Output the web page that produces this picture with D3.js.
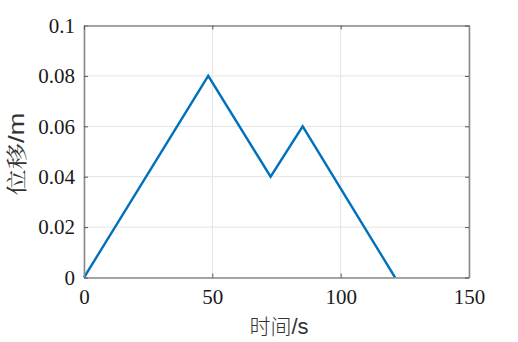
<!DOCTYPE html>
<html>
<head>
<meta charset="utf-8">
<script src="https://cdn.jsdelivr.net/npm/d3@7"></script>
<style>
  body { margin: 0; background: #fff; }
</style>
</head>
<body>
<svg width="518" height="342"></svg>
<script>
// données
const times = [0, 48.4, 72.7, 85.2, 121.2];
const displacement = [0, 0.08, 0.04, 0.06, 0];
const xTicks = [0, 50, 100, 150];
const yTicks = [0, 0.02, 0.04, 0.06, 0.08, 0.1];

const margin = { top: 25.5, right: 49, bottom: 64.5, left: 84 };
const width = 518, height = 342;
const w = width - margin.left - margin.right;
const h = height - margin.top - margin.bottom;
const tickFont = "'Liberation Serif', 'Times New Roman', Times, serif";
const cjkFont = "'Noto Serif CJK SC', 'Noto Sans CJK SC', serif";
const latinFont = "'Liberation Sans', Arial, sans-serif";

const svg = d3.select("svg")
  .append("g")
  .attr("transform", "translate(" + margin.left + "," + margin.top + ")");

const x = d3.scaleLinear().domain([0, 150]).range([0, w]);
const y = d3.scaleLinear().domain([0, 0.1]).range([h, 0]);

// grille
svg.selectAll(".gx").data(xTicks).enter().append("line")
  .attr("x1", d => x(d)).attr("x2", d => x(d))
  .attr("y1", 0).attr("y2", h)
  .attr("stroke", "#e3e3e3").attr("stroke-width", 1);
svg.selectAll(".gy").data(yTicks).enter().append("line")
  .attr("x1", 0).attr("x2", w)
  .attr("y1", d => y(d)).attr("y2", d => y(d))
  .attr("stroke", "#e3e3e3").attr("stroke-width", 1);

// courbe
svg.append("path")
  .datum(times.map((t, i) => [t, displacement[i]]))
  .attr("fill", "none")
  .attr("stroke", "#0072BD")
  .attr("stroke-width", 2.4)
  .attr("stroke-linejoin", "miter")
  .attr("d", d3.line().x(d => x(d[0])).y(d => y(d[1])));

// axes (ticks vers l'intérieur)
const xAxis = svg.append("g").attr("transform", "translate(0," + h + ")")
  .call(d3.axisBottom(x).tickValues(xTicks).tickSizeInner(-4).tickSizeOuter(0).tickPadding(12).tickFormat(d3.format("d")));
const yAxis = svg.append("g")
  .call(d3.axisLeft(y).tickValues(yTicks).tickSizeInner(-4).tickSizeOuter(0).tickPadding(9).tickFormat(d => d === 0 ? "0" : String(+d.toFixed(2))));
svg.append("g")
  .call(d3.axisTop(x).tickValues(xTicks).tickSizeInner(-4).tickSizeOuter(0).tickFormat(""));
svg.append("g").attr("transform", "translate(" + w + ",0)")
  .call(d3.axisRight(y).tickValues(yTicks).tickSizeInner(-4).tickSizeOuter(0).tickFormat(""));

svg.selectAll(".domain").attr("stroke", "#8a8a8a").attr("stroke-width", 1.6);
svg.selectAll(".tick line").attr("stroke", "#555");
svg.selectAll(".tick text")
  .attr("font-family", null).attr("font-size", null)
  .style("font-family", tickFont).style("font-size", "21px").style("fill", "#1a1a1a");
xAxis.selectAll(".tick text").attr("dy", "0.71em");

// étiquettes
const xl = svg.append("text")
  .attr("x", 279 - margin.left).attr("y", 334 - margin.top)
  .attr("text-anchor", "middle")
  .style("fill", "#333");
xl.append("tspan").style("font-family", "'Noto Sans CJK SC', sans-serif").style("font-weight", 300).style("font-size", "21px").text("时间");
xl.append("tspan").style("font-family", latinFont).style("font-size", "22px").text("/s");

const yl = svg.append("text")
  .attr("transform", "translate(" + (24 - margin.left) + "," + (154 - margin.top) + ") rotate(-90) scale(1.25,1)")
  .attr("text-anchor", "middle")
  .style("fill", "#333");
yl.append("tspan").style("font-family", cjkFont).style("font-size", "21px").text("位移");
yl.append("tspan").style("font-family", latinFont).style("font-size", "22px").text("/m");
</script>
</body>
</html>
